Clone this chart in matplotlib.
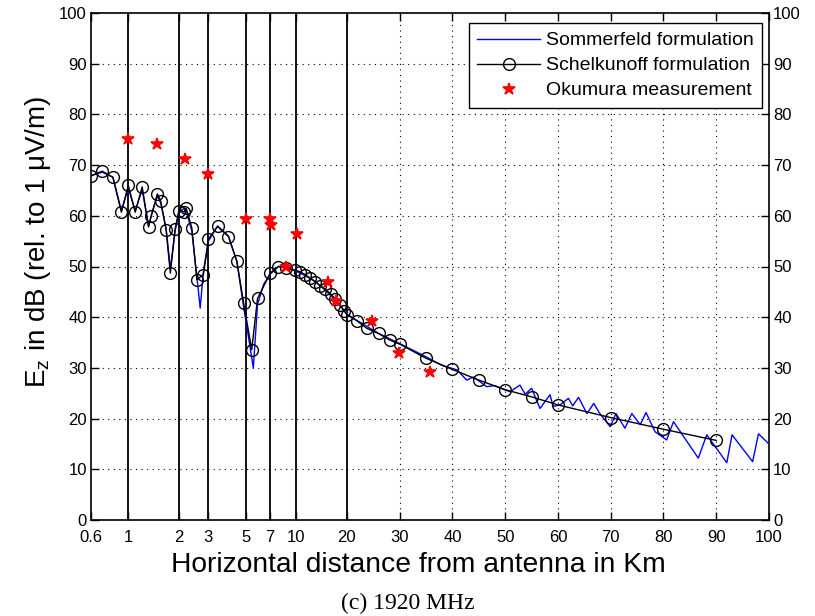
import numpy as np
import matplotlib
matplotlib.use("Agg")
import matplotlib.pyplot as plt

# Schelkunoff formulation (black line, open circles)
schel_km = [0.6, 0.70, 0.81, 0.91, 1.0, 1.10, 1.21, 1.32, 1.37, 1.49, 1.56, 1.68,
            1.78, 1.90, 2.0, 2.15, 2.21, 2.39, 2.56, 2.80, 3.0, 3.4, 3.95, 4.43,
            4.86, 5.43, 5.88, 7.0, 7.83, 8.72, 9.8, 10.5, 11.3, 12.1, 13.0, 13.9,
            14.9, 16.0, 17.1, 18.3, 19.3, 20.0, 21.9, 23.8, 26.0, 28.1, 30.0,
            35.0, 40.0, 45.0, 50.0, 55.0, 60.0, 70.0, 80.0, 90.0]
schel_db = [67.9, 68.8, 67.6, 60.7, 66.0, 60.7, 65.7, 57.8, 60.0, 64.3, 62.9, 57.2,
            48.7, 57.4, 61.0, 60.8, 61.5, 57.6, 47.4, 48.4, 55.4, 57.9, 55.9, 51.0,
            42.8, 33.6, 43.7, 48.7, 50.0, 49.7, 49.3, 49.0, 48.4, 47.7, 47.0, 46.2,
            45.5, 44.6, 43.6, 42.4, 41.2, 40.5, 39.3, 37.8, 36.8, 35.5, 34.7,
            31.9, 29.7, 27.6, 25.7, 24.3, 22.7, 20.2, 17.9, 15.7]

# Sommerfeld formulation (blue line)
somm_km = [0.6, 0.70, 0.81, 0.91, 1.0, 1.10, 1.21, 1.32, 1.37, 1.49, 1.56, 1.68,
           1.78, 1.90, 2.0, 2.15, 2.21, 2.39, 2.56, 2.68, 2.80, 3.0, 3.4, 3.95,
           4.43, 4.86, 5.2, 5.55, 5.88, 6.4, 7.0, 7.83, 8.72, 9.8, 11.3, 13.0,
           14.9, 17.1, 20.0, 22.0, 26.0, 30.0, 35.0, 38.0, 40.9, 42.7, 44.0, 46.5,
           48.0, 50.9, 52.8, 53.8, 55.0, 56.6, 58.5, 59.1, 60.4, 62.0, 62.8, 63.9,
           65.5, 66.8, 67.8, 69.9, 71.0, 72.7, 74.0, 75.6, 76.7, 78.4, 80.6, 81.9,
           86.6, 88.2, 92.0, 93.0, 96.9, 98.0, 100.0]
somm_db = [67.9, 68.6, 67.6, 61.0, 65.5, 61.0, 65.2, 58.0, 60.0, 64.0, 62.5, 57.5,
           49.5, 57.0, 60.5, 61.5, 61.0, 57.0, 48.0, 41.8, 49.0, 55.0, 58.0, 56.0,
           51.0, 42.0, 36.0, 30.0, 42.5, 46.5, 48.5, 50.0, 49.8, 49.2, 48.2, 47.0,
           45.3, 43.4, 40.6, 39.3, 36.8, 34.8, 32.2, 30.5, 29.6, 27.6, 28.2, 26.3,
           26.5, 25.3, 26.6, 24.8, 26.0, 22.0, 24.7, 22.4, 22.7, 24.0, 22.5, 24.2,
           21.0, 23.0, 21.2, 18.4, 21.0, 18.1, 21.0, 18.8, 21.2, 17.4, 15.8, 19.4,
           12.2, 16.8, 11.3, 16.8, 11.5, 17.0, 15.0]

# Okumura measurement (red stars)
oku_km = [1.0, 1.48, 2.18, 3.0, 5.0, 6.97, 7.1, 8.7, 10.1, 15.4, 17.3, 24.7, 29.9, 35.8]
oku_db = [75.1, 74.2, 71.2, 68.3, 59.4, 59.4, 58.1, 50.0, 56.4, 47.0, 43.1, 39.3, 32.9, 29.1]

xticks = [0.6, 1, 2, 3, 5, 7, 10, 20, 30, 40, 50, 60, 70, 80, 90, 100]
xticklabels = ['0.6', '1', '2', '3', '5', '7', '10', '20', '30', '40', '50',
               '60', '70', '80', '90', '100']
solid_lines = [1, 2, 3, 5, 7, 10, 20]
dotted_x = [30, 40, 50, 60, 70, 80, 90]
yticks = list(range(0, 101, 10))

plt.rcParams['font.family'] = ['Liberation Sans', 'DejaVu Sans']
plt.rcParams['mathtext.fontset'] = 'custom'
plt.rcParams['mathtext.rm'] = 'Liberation Sans'


# log axis from 0.6 to 20 km, linear from 20 to 100 km
def fwd(x):
    x = np.asarray(x, dtype=float)
    xc = np.clip(x, 1e-3, None)
    return np.where(x <= 20, np.log10(xc / 0.6) * 168.1, 256.0 + (x - 20) * 5.28)


def inv(u):
    u = np.asarray(u, dtype=float)
    uc = np.clip(u, None, 256.0)
    return np.where(u <= 256.0, 0.6 * 10 ** (uc / 168.1), 20 + (u - 256.0) / 5.28)


fig = plt.figure(figsize=(8.15, 6.16), dpi=100)
ax = fig.add_axes([91 / 815, 96 / 616, 678 / 815, 507 / 616])
ax.set_xscale('function', functions=(fwd, inv))

for v in solid_lines:
    ax.axvline(v, color='black', lw=1.3, zorder=1)
for v in dotted_x:
    ax.axvline(v, color='black', lw=0.8, ls=(0, (1, 4)), zorder=1)
for v in yticks[1:-1]:
    ax.axhline(v, color='black', lw=0.8, ls=(0, (1, 4)), zorder=1)

ax.plot(somm_km, somm_db, color='blue', lw=1.0, label='Sommerfeld formulation', zorder=3)
ax.plot(schel_km, schel_db, color='black', lw=1.0, marker='o', ms=8.5, mfc='none',
        mec='black', mew=1.0, label='Schelkunoff formulation', zorder=4)
ax.plot(oku_km, oku_db, ls='none', marker='*', ms=9, mew=1.2, color='red',
        label='Okumura measurement', zorder=5)

ax.set_xlim(0.6, 100)
ax.set_ylim(0, 100)
ax.set_xticks(xticks)
ax.set_xticklabels(xticklabels)
ax.minorticks_off()
ax.set_yticks(yticks)
ax.tick_params(direction='in', length=6, width=1.0, top=True, right=True,
               labelright=True, labelsize=12, pad=3)
ax.tick_params(axis='x', pad=7)
for s in ax.spines.values():
    s.set_linewidth(1.2)

leg = ax.legend(loc='upper right', bbox_to_anchor=(762 / 815, 1 - 23 / 616),
                bbox_transform=fig.transFigure, fontsize=14, fancybox=False,
                framealpha=1, edgecolor='black', handlelength=3.2,
                handletextpad=0.3, borderpad=0.45, labelspacing=0.38,
                borderaxespad=0)
leg.get_frame().set_linewidth(1.0)

fig.text(418 / 815, 1 - 565 / 616, 'Horizontal distance from antenna in Km',
         ha='center', va='center', fontsize=20.3)
fig.text(38 / 815, 1 - 242 / 616, 'E$_\\mathrm{z}$ in dB (rel. to 1 \u03bcV/m)',
         ha='center', va='center', rotation=90, fontsize=20)
fig.text(408 / 815, 1 - 603 / 616, '(c) 1920 MHz', ha='center', va='center',
         fontsize=17, family='Liberation Serif')

fig.savefig('out.png', dpi=100)
